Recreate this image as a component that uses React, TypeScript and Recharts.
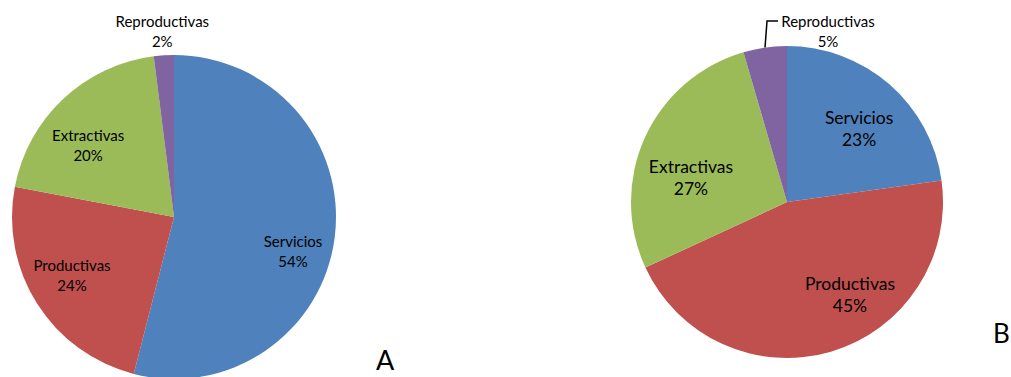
import React from "react";
import { PieChart, Pie, Cell } from "recharts";

const categories = ["Servicios", "Productivas", "Extractivas", "Reproductivas"];
const valuesA = [54, 24, 20, 2];
const valuesB = [22.8, 45.3, 27.4, 4.5];
const colors = ["#4F81BD", "#C0504D", "#9BBB59", "#8064A2"];
const panelLabels = ["A", "B"];

// label placement: [angle offset from slice middle (deg), radius fraction]
const placeA = [
  [8.8, 0.764],
  [2.8, 0.724],
  [-6.8, 0.692],
  [0, 1.15],
];
const placeB = [
  [3.2, 0.662],
  [-18, 0.715],
  [-9.9, 0.636],
  [21.6, 1.127],
];

const FONT = "Lato, 'Open Sans', sans-serif";
const RAD = Math.PI / 180;

const dataA = categories.map((name, i) => ({ name, value: valuesA[i] }));
const dataB = categories.map((name, i) => ({ name, value: valuesB[i] }));

function makeLabel(place: number[][], sizes: number[], gaps: number[], leader: boolean) {
  return (props: any) => {
    const { cx, cy, midAngle, outerRadius, index, name, percent } = props;
    const clockFromTop = 90 - midAngle;
    const ang = clockFromTop + place[index][0];
    const r = outerRadius * place[index][1];
    const x = cx + r * Math.sin(ang * RAD);
    const y = cy - r * Math.cos(ang * RAD);
    const fs = sizes[index];
    const gap = gaps[index];
    const pct = Math.round(percent * 100) + "%";
    const els: any[] = [];
    if (leader && index === 3) {
      const ex = cx + outerRadius * Math.sin(clockFromTop * RAD);
      const ey = cy - outerRadius * Math.cos(clockFromTop * RAD);
      const ky = y - gap / 2;
      const kx = ex + 2;
      els.push(
        <polyline
          key="l"
          points={`${ex},${ey} ${kx},${ky} ${kx + 11},${ky}`}
          fill="none"
          stroke="#000"
          strokeWidth={1.5}
        />
      );
    }
    return (
      <g key={`lbl-${index}`}>
        {els}
        <text
          x={x}
          y={y - gap / 2}
          textAnchor="middle"
          dominantBaseline="central"
          fontFamily={FONT}
          fontSize={fs}
          fill="#000"
        >
          {name}
        </text>
        <text
          x={x}
          y={y + gap / 2}
          textAnchor="middle"
          dominantBaseline="central"
          fontFamily={FONT}
          fontSize={fs}
          fill="#000"
        >
          {pct}
        </text>
      </g>
    );
  };
}

export default function App() {
  return (
    <div
      style={{
        position: "absolute",
        left: 0,
        top: 0,
        width: 1011,
        height: 377,
        background: "#fff",
        overflow: "hidden",
      }}
    >
      <PieChart width={1011} height={377} margin={{ top: 0, right: 0, bottom: 0, left: 0 }}>
        <Pie
          data={dataA}
          dataKey="value"
          nameKey="name"
          cx={174}
          cy={217}
          outerRadius={162}
          startAngle={90}
          endAngle={-270}
          stroke="none"
          labelLine={false}
          label={makeLabel(placeA, [15, 15, 15, 15], [20, 20, 20, 20], false)}
          isAnimationActive={false}
        >
          {dataA.map((d, i) => (
            <Cell key={d.name} fill={colors[i]} />
          ))}
        </Pie>
        <Pie
          data={dataB}
          dataKey="value"
          nameKey="name"
          cx={787}
          cy={202}
          outerRadius={156}
          startAngle={90}
          endAngle={-270}
          stroke="none"
          labelLine={false}
          label={makeLabel(placeB, [17.5, 17.5, 17.5, 15], [22, 22, 22, 20], true)}
          isAnimationActive={false}
        >
          {dataB.map((d, i) => (
            <Cell key={d.name} fill={colors[i]} />
          ))}
        </Pie>
      </PieChart>
      <div
        style={{
          position: "absolute",
          left: 376,
          top: 345,
          fontFamily: FONT,
          fontSize: 27,
          lineHeight: "30px",
          color: "#000",
        }}
      >
        {panelLabels[0]}
      </div>
      <div
        style={{
          position: "absolute",
          left: 993,
          top: 318,
          fontFamily: FONT,
          fontSize: 26,
          lineHeight: "30px",
          color: "#000",
        }}
      >
        {panelLabels[1]}
      </div>
    </div>
  );
}
